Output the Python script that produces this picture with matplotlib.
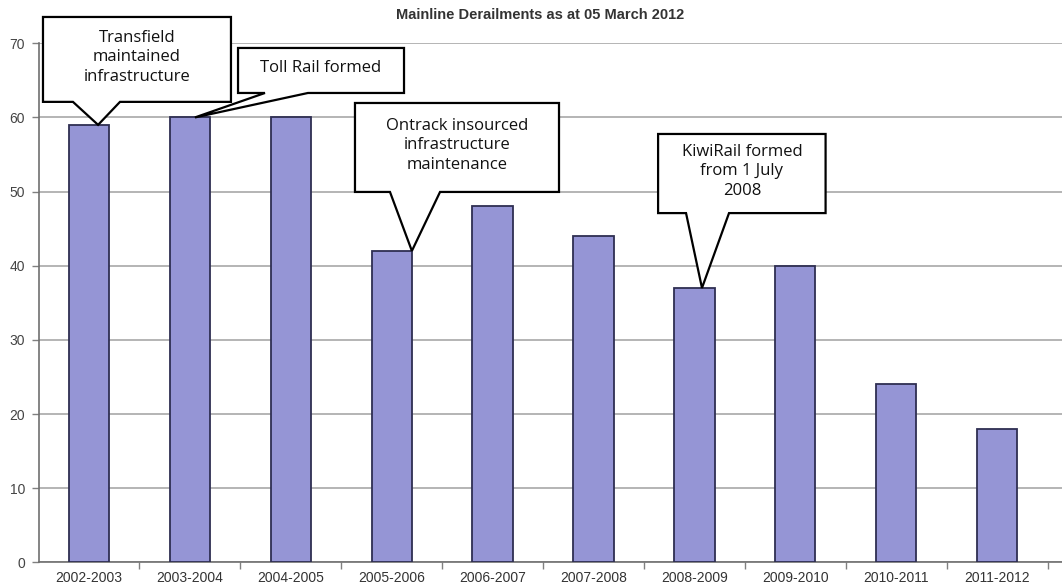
import matplotlib
matplotlib.use("Agg")
import matplotlib.pyplot as plt
from matplotlib.patches import Polygon

# ---- data ----
categories = ["2002-2003", "2003-2004", "2004-2005", "2005-2006", "2006-2007",
              "2007-2008", "2008-2009", "2009-2010", "2010-2011", "2011-2012"]
derailments = [59, 60, 60, 42, 48, 44, 37, 40, 24, 18]
title = "Mainline Derailments as at 05 March 2012"
y_ticks = [0, 10, 20, 30, 40, 50, 60, 70]

# callouts: text, target bar index
callout_texts = ["Transfield\nmaintained\ninfrastructure",
                 "Toll Rail formed",
                 "Ontrack insourced\ninfrastructure\nmaintenance",
                 "KiwiRail formed\nfrom 1 July\n2008"]
callout_targets = [0, 1, 3, 6]

# layout of callouts (box x0, x1, y_bottom, y_top, pointer base x0, x1, tip x offset)
callout_layout = [
    (-0.456, 1.407, 62.1, 73.55, -0.159, 0.307, 0.09),
    (1.477, 3.122, 63.3, 69.37, 1.744, 2.17, 0.05),
    (2.636, 4.658, 49.95, 61.95, 2.983, 3.479, 0.20),
    (5.64, 7.30, 47.1, 57.77, 5.917, 6.343, 0.075),
]

W, H = 1062, 588
fig = plt.figure(figsize=(W / 100, H / 100), dpi=100)
fig.patch.set_facecolor("white")
left_px, right_px, top_px, bottom_px = 39, 1062, 43.3, 562.3
ax = fig.add_axes([left_px / W, (H - bottom_px) / H,
                   (right_px - left_px) / W, (bottom_px - top_px) / H])

x = list(range(len(categories)))
ax.bar(x, derailments, width=0.4, color="#9595d5", edgecolor="#2e2e52",
       linewidth=1.3, zorder=3)

ax.set_ylim(0, 70)
ax.set_xlim(-0.4955, 9.643)
ax.set_yticks(y_ticks)
ax.yaxis.grid(True, color="#a8a8a8", linewidth=1.2, zorder=0)
ax.set_axisbelow(True)

ax.set_xticks([i + 0.5 for i in range(len(categories))], minor=False)
ax.set_xticklabels([])
ax.set_xticks(x, minor=True)
ax.set_xticklabels(categories, minor=True, fontsize=10,
                   family="Liberation Sans", color="#333333")
ax.tick_params(axis="x", which="minor", length=0, pad=6)
ax.tick_params(axis="x", which="major", length=5, color="#808080", width=1)
ax.tick_params(axis="y", length=5, color="#808080", width=1, pad=5,
               labelsize=10, labelcolor="#444444")
for lab in ax.get_yticklabels():
    lab.set_family("Liberation Sans")

for s in ["top", "right"]:
    ax.spines[s].set_visible(False)
for s in ["left", "bottom"]:
    ax.spines[s].set_color("#707070")
    ax.spines[s].set_linewidth(1.2)

fig.text(0.509, 1 - 15 / H, title, ha="center", va="center", fontsize=10.5,
         fontweight="bold", family="Liberation Sans", color="#333333")

for text, idx, lay in zip(callout_texts, callout_targets, callout_layout):
    x0, x1, yb, yt, b0, b1, tx = lay
    tip = (idx + tx, derailments[idx])
    pts = [(x0, yb), (x0, yt), (x1, yt), (x1, yb), (b1, yb), tip, (b0, yb)]
    poly = Polygon(pts, closed=True, facecolor="white", edgecolor="black",
                   linewidth=1.6, clip_on=False, zorder=5, joinstyle="miter")
    ax.add_patch(poly)
    ax.text((x0 + x1) / 2, (yb + yt) / 2 + 0.3, text, ha="center", va="center",
            fontsize=12, family="Open Sans", linespacing=1.3,
            color="#111111", zorder=6, clip_on=False)

fig.savefig("out.png", dpi=100)
